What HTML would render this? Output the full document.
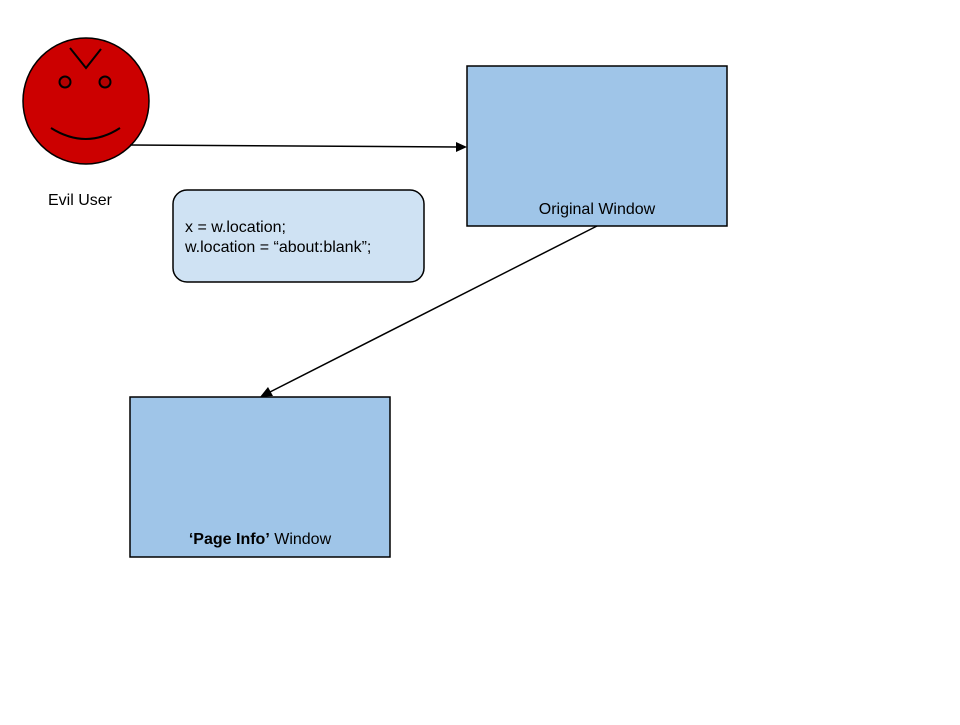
<!DOCTYPE html>
<html><head><style>body{margin:0;background:#fff}</style></head><body>
<svg width="960" height="720" xmlns="http://www.w3.org/2000/svg" font-family="Liberation Sans, sans-serif">
<rect width="960" height="720" fill="#fff"/>
<circle cx="86" cy="101" r="63" fill="#cc0000" stroke="#000" stroke-width="1.5"/>
<circle cx="65" cy="82" r="5.5" fill="#b30000" stroke="#000" stroke-width="2"/>
<circle cx="105" cy="82" r="5.5" fill="#b30000" stroke="#000" stroke-width="2"/>
<polyline points="70,48 86,68 101,49" fill="none" stroke="#000" stroke-width="2"/>
<path d="M51,128 Q86,150 120,128" fill="none" stroke="#000" stroke-width="2"/>
<text x="48" y="205" font-size="16">Evil User</text>
<line x1="130" y1="145" x2="458" y2="147" stroke="#000" stroke-width="1.5"/>
<polygon points="467,147 456,142 456,152" fill="#000"/>
<rect x="467" y="66" width="260" height="160" fill="#9fc5e8" stroke="#000" stroke-width="1.5"/>
<text x="597" y="214" font-size="16" text-anchor="middle">Original Window</text>
<rect x="173" y="190" width="251" height="92" rx="14" fill="#cfe2f3" stroke="#000" stroke-width="1.5"/>
<text x="185" y="232" font-size="16">x = w.location;</text>
<text x="185" y="252" font-size="16">w.location = “about:blank”;</text>
<line x1="597" y1="226" x2="268" y2="393" stroke="#000" stroke-width="1.5"/>
<polygon points="260,397 268,387 273,396" fill="#000"/>
<rect x="130" y="397" width="260" height="160" fill="#9fc5e8" stroke="#000" stroke-width="1.5"/>
<text x="260" y="544" font-size="16" text-anchor="middle"><tspan font-weight="bold">‘Page Info’</tspan> Window</text>
</svg>
</body></html>
